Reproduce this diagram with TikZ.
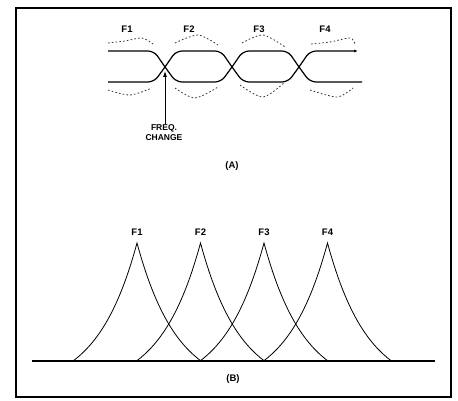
\documentclass[tikz,border=0pt]{standalone}
\usepackage{fontspec}
\setmainfont{Liberation Sans}
\usetikzlibrary{arrows.meta}
\tikzset{
    lbl/.style={font=\fontsize{9.5}{10.5}\selectfont\bfseries, inner sep=1pt},
    sig/.style={line width=1.2pt, rounded corners=6pt},
    halo/.style={dash pattern=on 1.6pt off 2.2pt, line width=0.8pt, draw=black!80},
    resp/.style={line width=0.8pt},
    frame/.style={line width=1.4pt}
}

\begin{document}
\begin{tikzpicture}[x=1pt, y=-1pt]
  \useasboundingbox (0,0) rectangle (458,401);

  % --- Frame ---
  \draw[frame] (16,8) rectangle (451,397);

  % --- (A): frequency hopping signal ---
  \draw[sig, -{Latex[length=4pt, width=3pt]}]
        (108,82) -- (154,82) -- (165,67) -- (176,51) -- (221,51) -- (232,67)
        -- (243,82) -- (288,82) -- (299,67) -- (310,51) -- (358,51);
  \draw[sig]
        (108,51) -- (154,51) -- (165,67) -- (176,82) -- (221,82) -- (232,67)
        -- (243,51) -- (288,51) -- (299,67) -- (310,82) -- (362,82);
  \coordinate (hop) at (165,71);

  % dashed envelopes
  \draw[halo] plot[smooth] coordinates {(108,43) (125,41) (142,38) (153,44)};
  \draw[halo] plot[smooth] coordinates {(175,43) (198,35) (218,45)};
  \draw[halo] plot[smooth] coordinates {(242,43) (263,35) (285,47)};
  \draw[halo] plot[smooth] coordinates {(311,44) (330,42) (350,38) (355,44)};
  \draw[halo] plot[smooth] coordinates {(108,90) (130,95) (152,88)};
  \draw[halo] plot[smooth] coordinates {(175,88) (195,98) (218,87)};
  \draw[halo] plot[smooth] coordinates {(240,85) (263,97) (285,82)};
  \draw[halo] plot[smooth] coordinates {(310,90) (337,97) (353,88)};

  \node[lbl] (fa1) at (127,29) {F1};
  \node[lbl] (fa2) at (189,29) {F2};
  \node[lbl] (fa3) at (259,29) {F3};
  \node[lbl] (fa4) at (325,29) {F4};

  \node[lbl, align=center, font=\fontsize{8.5}{10}\selectfont\bfseries]
        (freq) at (164,133) {FREQ.\\CHANGE};
  \draw[line width=0.8pt, -{Latex[length=6pt, width=4pt]}]
        (freq.north -| hop) -- (hop);

  \node[lbl] (capA) at (232,166) {(A)};

  % --- (B): overlapping channel responses ---
  \draw[line width=1.1pt] (32,361) -- (435,361);
  \foreach \p/\n in {137/1, 200.5/2, 264/3, 327.5/4} {
    \draw[resp] plot[domain=-64:64, samples=61, variable=\d]
        ({\p+\d}, {361-118*(exp(-abs(\d)/40)-exp(-1.6))/(1-exp(-1.6))});
    \node[lbl] (fb\n) at (\p,232) {F\n};
  }

  \node[lbl] (capB) at (233,379) {(B)};

\end{tikzpicture}
\end{document}
